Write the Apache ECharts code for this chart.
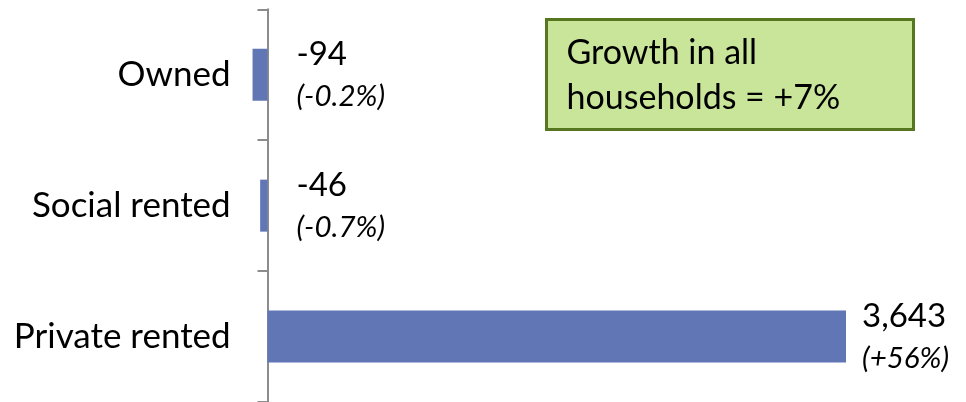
<!DOCTYPE html>
<html>
<head>
<meta charset="utf-8">
<script src="https://cdn.jsdelivr.net/npm/echarts@6/dist/echarts.min.js"></script>
<style>
  html, body { margin: 0; padding: 0; background: #fff; }
  #chart { width: 966px; height: 402px; }
</style>
</head>
<body>
<div id="chart"></div>
<script>
// Change in households by tenure
const categories = ['Owned', 'Social rented', 'Private rented'];
const changeValues = [-94, -46, 3643];
const changePercent = [-0.2, -0.7, 56];
const noteLines = ['Growth in all', 'households = +7%'];

const FONT = 'Lato, "Open Sans", sans-serif';

function fmtPct(p) {
  return '(' + (p > 0 ? '+' : '') + p + '%)';
}

// negative bars end at the zero line, so their labels sit a bit further out
const seriesData = changeValues.map(function (v) {
  return {
    value: v,
    label: { position: 'right', distance: v < 0 ? 29 : 16 }
  };
});

const chart = echarts.init(document.getElementById('chart'), null, { renderer: 'canvas' });

chart.setOption({
  animation: false,
  backgroundColor: '#ffffff',
  grid: { left: 235.7, right: 63.3, top: 9.3, bottom: -2 },
  xAxis: {
    type: 'value',
    min: -200,
    max: 4000,
    show: false
  },
  yAxis: {
    type: 'category',
    inverse: true,
    data: categories,
    axisLine: { show: true, onZero: true, lineStyle: { color: '#8c8c8c', width: 2 } },
    axisTick: { show: true, length: 10, lineStyle: { color: '#8c8c8c', width: 2 } },
    axisLabel: { margin: 5, color: '#000', fontSize: 35, fontFamily: FONT }
  },
  series: [{
    type: 'bar',
    data: seriesData,
    barWidth: 52,
    itemStyle: { color: '#6177b5' },
    label: {
      show: true,
      align: 'left',
      formatter: function (p) {
        const i = p.dataIndex;
        return '{v|' + changeValues[i].toLocaleString('en-US') + '}\n{p|' + fmtPct(changePercent[i]) + '}';
      },
      rich: {
        v: { fontSize: 33, lineHeight: 44, color: '#000', fontFamily: FONT },
        p: { fontSize: 29.5, lineHeight: 40, color: '#000', fontStyle: 'italic', fontFamily: FONT }
      }
    }
  }],
  graphic: [{
    type: 'group',
    left: 545,
    top: 18,
    children: [{
      type: 'rect',
      shape: { x: 0, y: 0, width: 367, height: 110 },
      style: { fill: '#c8e599', stroke: '#56761f', lineWidth: 3 }
    }, {
      type: 'text',
      x: 20,
      y: 11,
      style: {
        text: noteLines.join('\n'),
        fontSize: 34,
        lineHeight: 45,
        fill: '#000',
        fontFamily: FONT
      }
    }]
  }]
});
</script>
</body>
</html>
